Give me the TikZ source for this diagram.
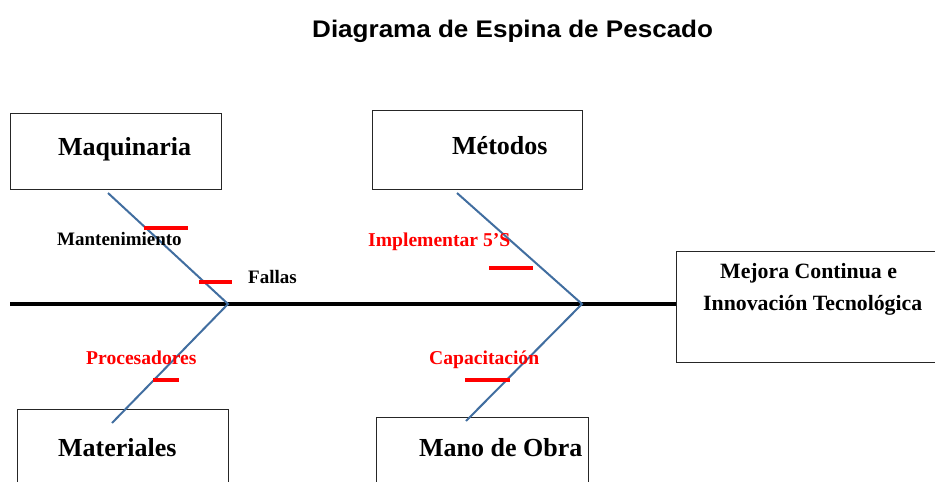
\documentclass[tikz,border=0pt]{standalone}
\usepackage{fontspec}
\setmainfont{Liberation Serif}
\newfontfamily\titlefont{Liberation Sans}
\definecolor{bonecol}{RGB}{65,110,160}
\definecolor{tickred}{RGB}{255,0,0}
\begin{document}
\begin{tikzpicture}[x=1pt,y=-1pt,
  box/.style={draw=black!85,line width=1.2pt,anchor=north west,inner sep=0pt},
  lbl/.style={anchor=base west,inner sep=0pt,font=\bfseries\fontsize{26}{30}\selectfont},
  reslbl/.style={anchor=base west,inner sep=0pt,font=\bfseries\fontsize{21.8}{26}\selectfont},
  cause/.style={anchor=base west,inner sep=0pt,font=\bfseries\fontsize{19}{22}\selectfont},
  redcause/.style={anchor=base west,inner sep=0pt,text=tickred,font=\bfseries\fontsize{19.6}{23}\selectfont},
  spine/.style={line width=3.3pt,black},
  bone/.style={line width=2pt,bonecol},
  tick/.style={line width=3.5pt,tickred}]
\useasboundingbox (0,0) rectangle (935,482);
\clip (0,0) rectangle (935,482);
\fill[white] (0,0) rectangle (935,482);
% title
\node[anchor=base west,inner sep=0pt,font=\titlefont\bfseries\fontsize{24}{28}\selectfont] (title) at (312,37) {\scalebox{1.085}[1]{Diagrama de Espina de Pescado}};
% boxes
\node[box,minimum width=211pt,minimum height=76pt] (maqbox) at (10,113) {};
\node[box,minimum width=210pt,minimum height=79pt] (metbox) at (372,110) {};
\node[box,minimum width=211pt,minimum height=90pt] (matbox) at (17,409) {};
\node[box,minimum width=212pt,minimum height=80pt] (manbox) at (376,417) {};
\node[box,minimum width=280pt,minimum height=111pt] (resbox) at (676,251) {};
% box texts
\node[lbl] (maq) at (58,155) {Maquinaria};
\node[lbl] (met) at (452,154) {Métodos};
\node[lbl] (mat) at (58,456) {Materiales};
\node[lbl] (man) at (419,456) {Mano de Obra};
\node[reslbl] (res1) at (720,278) {Mejora Continua e};
\node[reslbl] (res2) at (703,310) {Innovación Tecnológica};
% spine
\coordinate (tail) at (10,304);
\draw[spine] (tail) -- (tail -| resbox.west);
% bones
\coordinate (j1) at (228,304);
\coordinate (j2) at (582,304);
\coordinate (b1) at (108,193);
\coordinate (b2) at (112,423);
\coordinate (b3) at (457,193);
\coordinate (b4) at (466,421);
\draw[bone] (b1) -- (j1) -- (b2);
\draw[bone] (b3) -- (j2) -- (b4);
% ticks
\coordinate (t1a) at (144,228); \coordinate (t1b) at (188,228);
\coordinate (t2a) at (199,282); \coordinate (t2b) at (232,282);
\coordinate (t3a) at (489,268); \coordinate (t3b) at (533,268);
\coordinate (t4a) at (153,380); \coordinate (t4b) at (179,380);
\coordinate (t5a) at (465,380); \coordinate (t5b) at (510,380);
\draw[tick] (t1a) -- (t1b);
\draw[tick] (t2a) -- (t2b);
\draw[tick] (t3a) -- (t3b);
\draw[tick] (t4a) -- (t4b);
\draw[tick] (t5a) -- (t5b);
% cause labels
\node[cause] (mant) at (57,245) {Mantenimiento};
\node[cause] (fal) at (248,283) {Fallas};
\node[redcause] (imp) at (368,246) {Implementar 5’S};
\node[redcause] (pro) at (86,364) {Procesadores};
\node[redcause] (cap) at (429,364) {Capacitación};
\end{tikzpicture}
\end{document}
